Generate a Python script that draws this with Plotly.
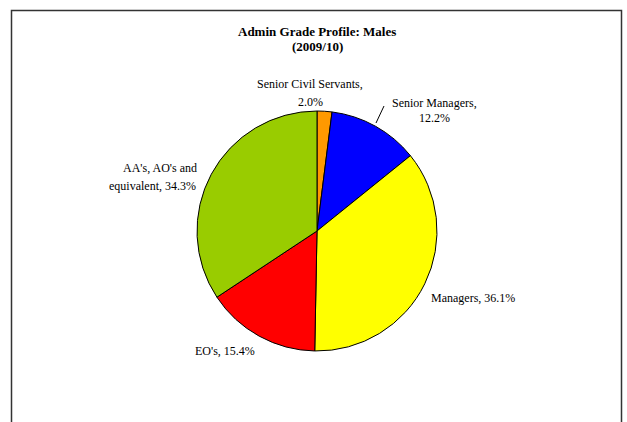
import plotly.graph_objects as go

W, H = 627, 422

# Data
grades = ["Senior Civil Servants", "Senior Managers", "Managers", "EO's", "AA's, AO's and equivalent"]
shares = [2.0, 12.2, 36.1, 15.4, 34.3]
colors = ["#FF9900", "#0000FF", "#FFFF00", "#FF0000", "#99CC00"]

SERIF = "Liberation Serif, Times New Roman, serif"

def px(x, y):
    return x / W, 1 - y / H

fig = go.Figure(go.Pie(
    labels=grades,
    values=shares,
    marker=dict(colors=colors, line=dict(color="#000000", width=1)),
    sort=False,
    direction="clockwise",
    rotation=0,
    textinfo="none",
    hoverinfo="label+percent",
    showlegend=False,
    domain=dict(x=[197 / W, 437 / W], y=[1 - 351 / H, 1 - 111 / H]),
))

# Data labels: (line text, x, y) in pixel positions
label_lines = [
    ("Senior Civil Servants,", 310, 84),
    (f"{shares[0]:.1f}%", 310, 102),
    ("Senior Managers,", 434, 103),
    (f"{shares[1]:.1f}%", 434, 118),
    (f"Managers, {shares[2]:.1f}%", 473, 298),
    (f"EO's, {shares[3]:.1f}%", 225, 351),
    ("AA's, AO's and", 160, 168),
    (f"equivalent, {shares[4]:.1f}%", 152, 186),
]

annotations = []
for text, x, y in label_lines:
    ax, ay = px(x, y)
    annotations.append(dict(
        text=text, x=ax, y=ay, xref="paper", yref="paper",
        xanchor="center", yanchor="middle", showarrow=False,
        font=dict(family=SERIF, size=12, color="#000000"),
    ))

for text, y in [("Admin Grade Profile: Males", 31), ("(2009/10)", 46)]:
    ax, ay = px(317, y)
    annotations.append(dict(
        text=f"<b>{text}</b>", x=ax, y=ay, xref="paper", yref="paper",
        xanchor="center", yanchor="middle", showarrow=False,
        font=dict(family=SERIF, size=13, color="#000000"),
    ))

shapes = [
    # chart frame
    dict(type="rect", xref="paper", yref="paper",
         x0=11.5 / W, x1=621.5 / W, y0=-0.05, y1=1 - 10.5 / H,
         line=dict(color="#333333", width=1.5), fillcolor="rgba(0,0,0,0)"),
    # leader line for Senior Managers
    dict(type="line", xref="paper", yref="paper",
         x0=384 / W, y0=1 - 106 / H, x1=376 / W, y1=1 - 123 / H,
         line=dict(color="#000000", width=1)),
]

fig.update_layout(
    width=W, height=H,
    margin=dict(l=0, r=0, t=0, b=0),
    paper_bgcolor="#FFFFFF",
    plot_bgcolor="#FFFFFF",
    annotations=annotations,
    shapes=shapes,
)

fig.write_html("out.html")
